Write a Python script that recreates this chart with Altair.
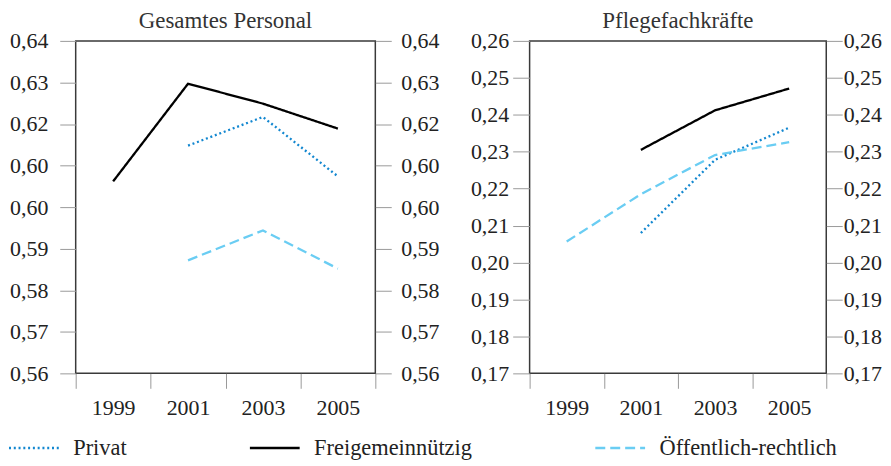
import altair as alt
import pandas as pd

years = ["1999", "2001", "2003", "2005"]
series = ["Privat", "Freigemeinnützig", "Öffentlich-rechtlich"]
series_colors = ["#1287D0", "#000000", "#6ACDF3"]
series_dashes = [[2, 2.8], [1, 0], [10, 5]]

# Gesamtes Personal
ges_privat = [None, 0.6148, 0.6217, 0.6074]
ges_frei = [0.6062, 0.6297, 0.6249, 0.6189]
ges_oeff = [None, 0.5872, 0.5944, 0.5852]

# Pflegefachkräfte
pf_privat = [None, 0.2080, 0.2278, 0.2365]
pf_frei = [None, 0.2305, 0.2412, 0.2471]
pf_oeff = [0.2057, 0.2185, 0.2291, 0.2326]

ges_ticks = [0.56, 0.57, 0.58, 0.59, 0.60, 0.61, 0.62, 0.63, 0.64]
ges_labels = ["0,56", "0,57", "0,58", "0,59", "0,60", "0,60", "0,62", "0,63", "0,64"]
pf_ticks = [0.17, 0.18, 0.19, 0.20, 0.21, 0.22, 0.23, 0.24, 0.25, 0.26]
pf_labels = ["0,17", "0,18", "0,19", "0,20", "0,21", "0,22", "0,23", "0,24", "0,25", "0,26"]

FONT = "Liberation Serif"


def long_df(values_by_series):
    rows = []
    for s, vals in zip(series, values_by_series):
        for y, v in zip(years, vals):
            if v is not None:
                rows.append({"Jahr": y, "Anteil": v, "Träger": s})
    return pd.DataFrame(rows)


def label_expr(ticks, labels):
    expr = "''"
    for t, l in reversed(list(zip(ticks, labels))):
        expr = f"abs(datum.value - {t}) < 0.0001 ? '{l}' : ({expr})"
    return expr


legend = alt.Legend(
    orient="none", legendX=-53.5, legendY=397.5, direction="horizontal", title=None,
    symbolType="M-2.5,0H2.5", symbolSize=400, symbolStrokeWidth=2.5,
    labelFont=FONT, labelFontSize=22.5, labelColor="#222",
    columnPadding=118, labelOffset=28, labelLimit=0, padding=0,
)
color = alt.Color("Träger:N", scale=alt.Scale(domain=series, range=series_colors), legend=legend)
dash = alt.StrokeDash("Träger:N", scale=alt.Scale(domain=series, range=series_dashes), legend=legend)


def panel(df, title, ticks, labels, width, lpad, ltick, rpad, rtick):
    x = alt.X(
        "Jahr:O", title=None, sort=years, bandPosition=0.5,
        scale=alt.Scale(type="band", domain=years, paddingInner=0, paddingOuter=0),
        axis=alt.Axis(tickBand="extent", tickSize=15, labelAngle=0, domain=False,
                      labelPadding=9, tickColor="#999", grid=False, labelFontSize=22),
    )
    yscale = alt.Scale(domain=[ticks[0], ticks[-1]], nice=False, zero=False)
    expr = label_expr(ticks, labels)

    def yaxis(orient, pad, tick):
        return alt.Axis(orient=orient, values=ticks, labelExpr=expr, tickSize=tick,
                        tickColor="#999", domain=False, grid=False, labelPadding=pad,
                        labelFontSize=22)

    lines = alt.Chart(df).mark_line(strokeWidth=2.3).encode(
        x=x,
        y=alt.Y("Anteil:Q", title=None, scale=yscale, axis=yaxis("left", lpad, ltick)),
        color=color,
        strokeDash=dash,
    )
    right = alt.Chart(df).mark_line(opacity=0).encode(
        x=x,
        y=alt.Y("Anteil:Q", title=None, scale=yscale, axis=yaxis("right", rpad, rtick)),
        detail="Träger:N",
    )
    return alt.layer(
        lines, right,
        title=alt.Title(title, font=FONT, fontSize=23, fontWeight="normal",
                        color="#333", offset=-3, anchor="middle"),
    ).resolve_axis(y="independent").properties(width=width, height=334)


p1 = panel(long_df([ges_privat, ges_frei, ges_oeff]), "Gesamtes Personal",
           ges_ticks, ges_labels, 301, 12, 16, 9.5, 16)
p2 = panel(long_df([pf_privat, pf_frei, pf_oeff]), "Pflegefachkräfte",
           pf_ticks, pf_labels, 298, 4, 17, 1, 16)

chart = alt.hconcat(p1, p2, spacing=29).resolve_scale(
    y="independent", color="shared", strokeDash="shared"
).resolve_legend(color="shared", strokeDash="shared").properties(
    padding=0
).configure_view(
    stroke="#3a3a3a", strokeWidth=1.5
).configure_axis(
    labelFont=FONT, labelColor="#222"
)

chart.save("out.html", embed_options={"renderer": "svg", "actions": False})
